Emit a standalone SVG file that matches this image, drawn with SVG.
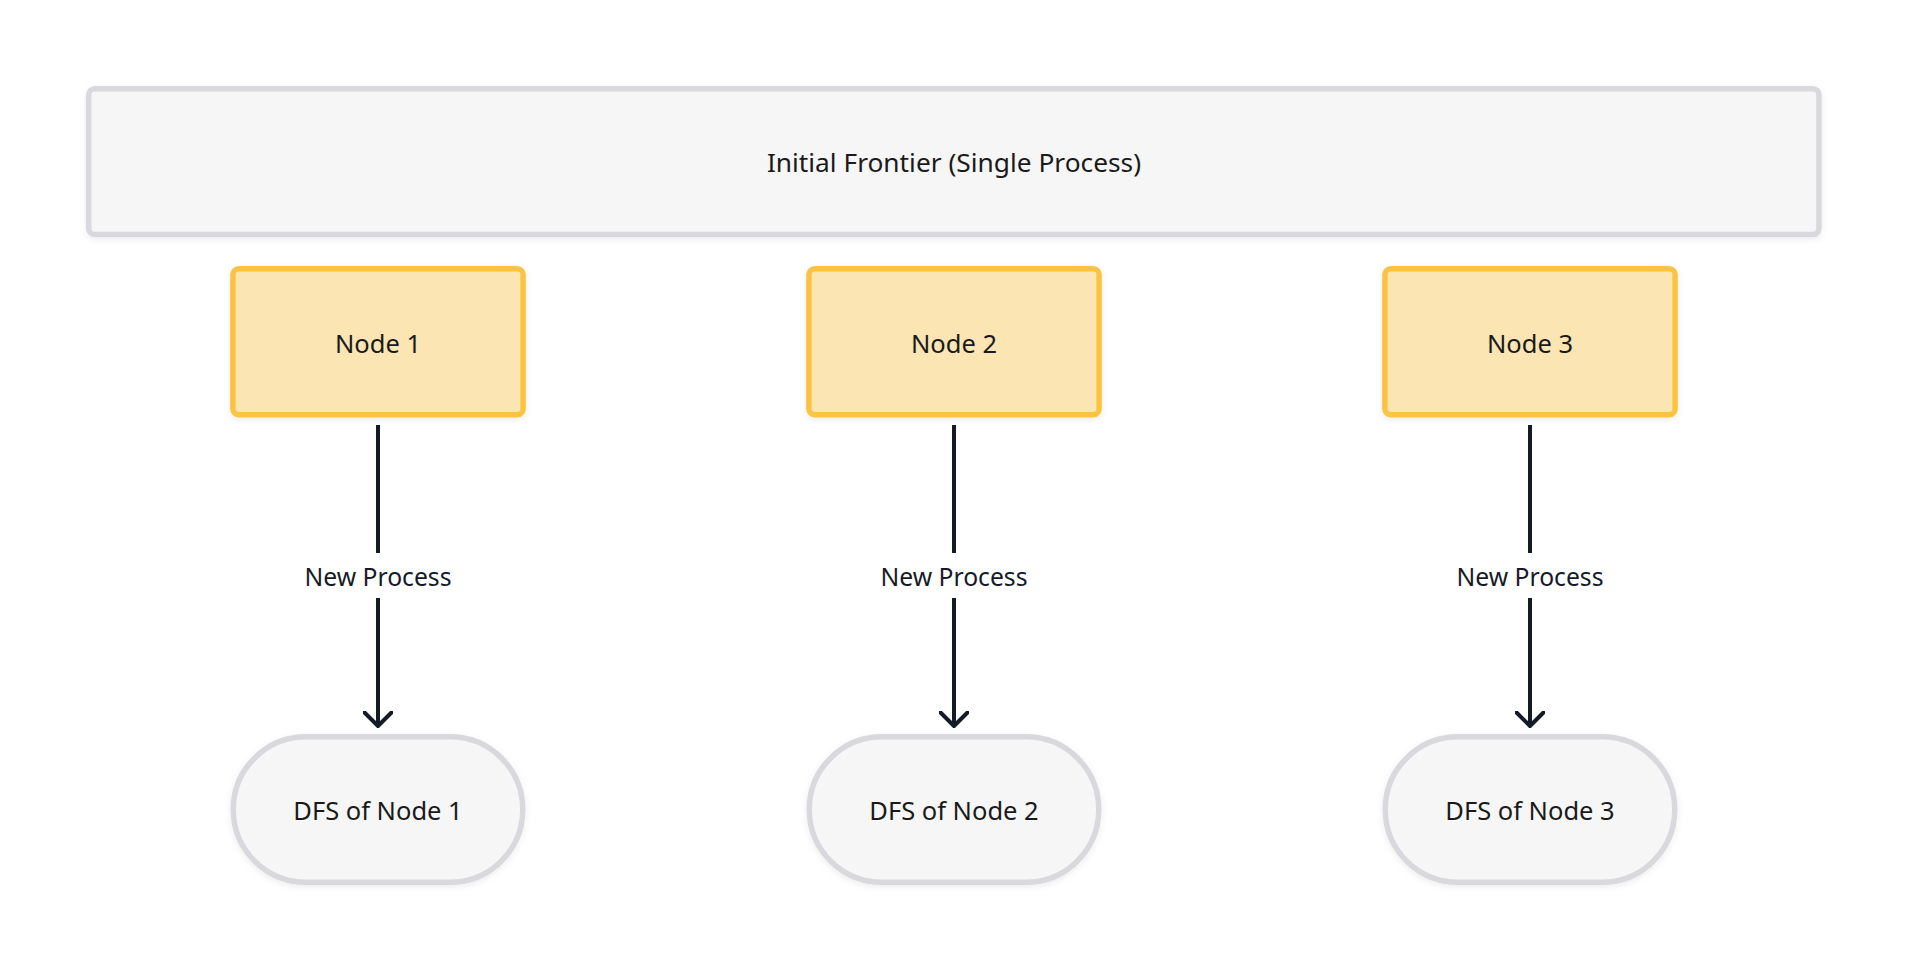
<svg xmlns="http://www.w3.org/2000/svg" width="1908" height="972" viewBox="0 0 1908 972">
<defs>
<filter id="sh" x="-10%" y="-10%" width="120%" height="130%">
<feDropShadow dx="0" dy="2" stdDeviation="3" flood-color="#000000" flood-opacity="0.08"/>
</filter>
<marker id="arr" markerUnits="userSpaceOnUse" viewBox="-15 -15 30 30" refX="0" refY="0" markerWidth="30" markerHeight="30" orient="auto">
<path d="M -13.5 -13.5 L 0 0 L -13.5 13.5" fill="none" stroke="#151a28" stroke-width="4" stroke-linecap="round" stroke-linejoin="round"/>
</marker>
<style>
.grey{fill:#f6f6f6;stroke:#d9d8dd;stroke-width:5.5;filter:url(#sh)}
.yel{fill:#fbe5b2;stroke:#fbc343;stroke-width:5.5;filter:url(#sh)}
.t{font-family:"Noto Sans","Open Sans","Liberation Sans",sans-serif;fill:#1a1a1a;text-anchor:middle}
.lbl{font-family:"Noto Sans","Open Sans","Liberation Sans",sans-serif;fill:#151a28;text-anchor:middle;font-size:24.7px}
.edge{stroke:#151a28;stroke-width:4;fill:none}
</style>
</defs>
<rect width="1908" height="972" fill="#ffffff"/>
<g id="frontier">
<rect class="grey" x="88.75" y="88.75" width="1730.2" height="145.8" rx="6"/>
<text class="t" x="954" y="172.3" font-size="26.3">Initial Frontier (Single Process)</text>
</g>
<g id="node1">
<rect class="yel" x="232.9" y="268.75" width="290.2" height="146" rx="6"/>
<text class="t" x="378" y="352.7" font-size="25.5">Node 1</text>
</g>
<g id="node2">
<rect class="yel" x="808.9" y="268.75" width="290.2" height="146" rx="6"/>
<text class="t" x="954" y="352.7" font-size="25.5">Node 2</text>
</g>
<g id="node3">
<rect class="yel" x="1384.9" y="268.75" width="290.2" height="146" rx="6"/>
<text class="t" x="1530" y="352.7" font-size="25.5">Node 3</text>
</g>
<g id="dfs1">
<rect class="grey" x="233.25" y="736.75" width="289.5" height="145.5" rx="72.75"/>
<text class="t" x="378" y="820" font-size="25.5">DFS of Node 1</text>
</g>
<g id="dfs2">
<rect class="grey" x="809.25" y="736.75" width="289.5" height="145.5" rx="72.75"/>
<text class="t" x="954" y="820" font-size="25.5">DFS of Node 2</text>
</g>
<g id="dfs3">
<rect class="grey" x="1385.25" y="736.75" width="289.5" height="145.5" rx="72.75"/>
<text class="t" x="1530" y="820" font-size="25.5">DFS of Node 3</text>
</g>
<g id="connectors">
<line class="edge" x1="378" y1="425" x2="378" y2="553"/>
<line class="edge" x1="378" y1="598" x2="378" y2="726" marker-end="url(#arr)"/>
<text class="lbl" x="378" y="586">New Process</text>
<line class="edge" x1="954" y1="425" x2="954" y2="553"/>
<line class="edge" x1="954" y1="598" x2="954" y2="726" marker-end="url(#arr)"/>
<text class="lbl" x="954" y="586">New Process</text>
<line class="edge" x1="1530" y1="425" x2="1530" y2="553"/>
<line class="edge" x1="1530" y1="598" x2="1530" y2="726" marker-end="url(#arr)"/>
<text class="lbl" x="1530" y="586">New Process</text>
</g>
</svg>
